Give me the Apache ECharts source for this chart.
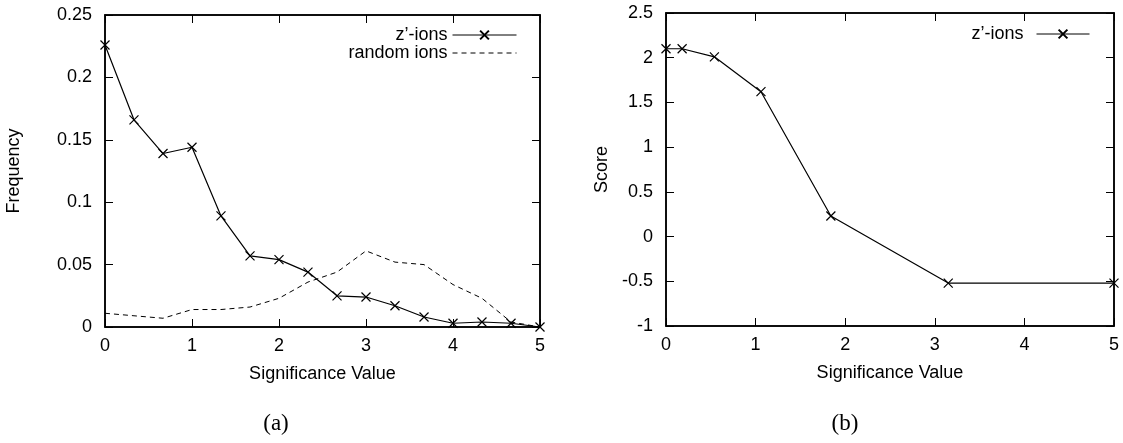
<!DOCTYPE html>
<html>
<head>
<meta charset="utf-8">
<script src="https://cdn.jsdelivr.net/npm/echarts@6/dist/echarts.min.js"></script>
<style>
  html, body { margin: 0; padding: 0; background: #fff; }
  #chart { width: 1123px; height: 443px; }
</style>
</head>
<body>
<div id="chart"></div>
<script>
// ---- data ----
const xLeft = [0, 0.333, 0.667, 1, 1.333, 1.667, 2, 2.333, 2.667, 3, 3.333, 3.667, 4, 4.333, 4.667, 5];
const zIonsFreq = [0.226, 0.166, 0.139, 0.144, 0.089, 0.057, 0.054, 0.044, 0.025, 0.024, 0.017, 0.008, 0.003, 0.004, 0.003, 0.0];
const randomIonsFreq = [0.011, 0.009, 0.007, 0.014, 0.014, 0.016, 0.023, 0.036, 0.044, 0.061, 0.052, 0.050, 0.034, 0.023, 0.004, 0.0];

const xRight = [0, 0.18, 0.54, 1.06, 1.84, 3.15, 5];
const zIonsScore = [2.10, 2.10, 2.01, 1.62, 0.23, -0.52, -0.52];

const leftYTicks = { min: 0, max: 0.25, interval: 0.05 };
const rightYTicks = { min: -1, max: 2.5, interval: 0.5 };
const xTicks = { min: 0, max: 5, interval: 1 };

const seriesNames = ['z\u2019-ions', 'random ions', 'z\u2019-ions\u200b'];
const captions = ['(a)', '(b)'];
const xTitle = 'Significance Value';
const yTitles = ['Frequency', 'Score'];

// ---- chart ----
const FONT = 'Liberation Sans, Arial, sans-serif';
const FS = 18;
const X_SYMBOL = 'path://M0,0L10,10M10,0L0,10';
const NO_SYMBOL = 'path://M0,0L10,10';

function pairs(xs, ys) { return xs.map((x, i) => [x, ys[i]]); }

const tickStyle = { show: true, inside: true, length: 8, lineStyle: { color: '#000', width: 1 } };
const axisLineStyle = { show: true, onZero: false, lineStyle: { color: '#000', width: 1.5 } };
const labelStyle = { color: '#000', fontFamily: FONT, fontSize: FS };

function mainX(grid) {
  return {
    type: 'value', gridIndex: grid, position: 'bottom',
    min: xTicks.min, max: xTicks.max, interval: xTicks.interval,
    axisLine: axisLineStyle, axisTick: tickStyle, splitLine: { show: false },
    axisLabel: Object.assign({ margin: 10 }, labelStyle),
    name: xTitle, nameLocation: 'middle', nameGap: 38,
    nameTextStyle: { color: '#000', fontFamily: FONT, fontSize: FS }
  };
}
function mirrorX(grid) {
  return {
    type: 'value', gridIndex: grid, position: 'top',
    min: xTicks.min, max: xTicks.max, interval: xTicks.interval,
    axisLine: axisLineStyle, axisTick: tickStyle, splitLine: { show: false },
    axisLabel: { show: false }
  };
}
function mainY(grid, t, name, gap) {
  return {
    type: 'value', gridIndex: grid, position: 'left',
    min: t.min, max: t.max, interval: t.interval,
    axisLine: axisLineStyle, axisTick: tickStyle, splitLine: { show: false },
    axisLabel: Object.assign({ margin: 13 }, labelStyle),
    name: name, nameLocation: 'middle', nameGap: gap, nameRotate: 90,
    nameTextStyle: { color: '#000', fontFamily: FONT, fontSize: FS }
  };
}
function mirrorY(grid, t) {
  return {
    type: 'value', gridIndex: grid, position: 'right',
    min: t.min, max: t.max, interval: t.interval,
    axisLine: axisLineStyle, axisTick: tickStyle, splitLine: { show: false },
    axisLabel: { show: false }
  };
}

const legendText = { color: '#000', fontFamily: FONT, fontSize: FS };

const chart = echarts.init(document.getElementById('chart'), null, { renderer: 'canvas' });
chart.setOption({
  backgroundColor: '#fff',
  animation: false,
  textStyle: { fontFamily: FONT },
  grid: [
    { left: 105, right: 583, top: 15, bottom: 116, show: true, borderColor: '#000', borderWidth: 1.5 },
    { left: 666, right: 9, top: 13, bottom: 117, show: true, borderColor: '#000', borderWidth: 1.5 }
  ],
  xAxis: [mainX(0), mirrorX(0), mainX(1), mirrorX(1)],
  yAxis: [
    mainY(0, leftYTicks, yTitles[0], 82), mirrorY(0, leftYTicks),
    mainY(1, rightYTicks, yTitles[1], 55), mirrorY(1, rightYTicks)
  ],
  legend: [
    { data: [seriesNames[0], seriesNames[1]], orient: 'vertical', align: 'right', right: 601, top: 21,
      itemWidth: 64, itemHeight: 11, itemGap: 0, selectedMode: false, textStyle: legendText,
      lineStyle: { width: 1 } },
    { data: [seriesNames[2]], orient: 'vertical', align: 'right', right: 28, top: 20,
      itemWidth: 53, itemHeight: 11, selectedMode: false,
      textStyle: Object.assign({ padding: [0, 8, 0, 0] }, legendText),
      lineStyle: { width: 1 } }
  ],
  graphic: [
    { type: 'text', x: 276, y: 424, style: { text: captions[0], fill: '#000', font: '23px "Liberation Serif", serif', align: 'center', verticalAlign: 'middle' } },
    { type: 'text', x: 845, y: 424, style: { text: captions[1], fill: '#000', font: '23px "Liberation Serif", serif', align: 'center', verticalAlign: 'middle' } }
  ],
  series: [
    {
      name: seriesNames[0], type: 'line', xAxisIndex: 0, yAxisIndex: 0,
      data: pairs(xLeft, zIonsFreq),
      symbol: X_SYMBOL, symbolSize: 9, showAllSymbol: true,
      lineStyle: { color: '#000', width: 1.2 },
      itemStyle: { color: '#000', borderColor: '#000', borderWidth: 1.2 },
      emphasis: { disabled: true }
    },
    {
      name: seriesNames[1], type: 'line', xAxisIndex: 0, yAxisIndex: 0,
      data: pairs(xLeft, randomIonsFreq),
      symbol: NO_SYMBOL, showSymbol: false,
      lineStyle: { color: '#000', width: 1, type: [5, 4] },
      itemStyle: { color: '#000', borderColor: 'rgba(0,0,0,0)', borderWidth: 0 },
      emphasis: { disabled: true }
    },
    {
      name: seriesNames[2], type: 'line', xAxisIndex: 2, yAxisIndex: 2,
      data: pairs(xRight, zIonsScore),
      symbol: X_SYMBOL, symbolSize: 9, showAllSymbol: true,
      lineStyle: { color: '#000', width: 1.2 },
      itemStyle: { color: '#000', borderColor: '#000', borderWidth: 1.2 },
      emphasis: { disabled: true }
    }
  ]
});
</script>
</body>
</html>
